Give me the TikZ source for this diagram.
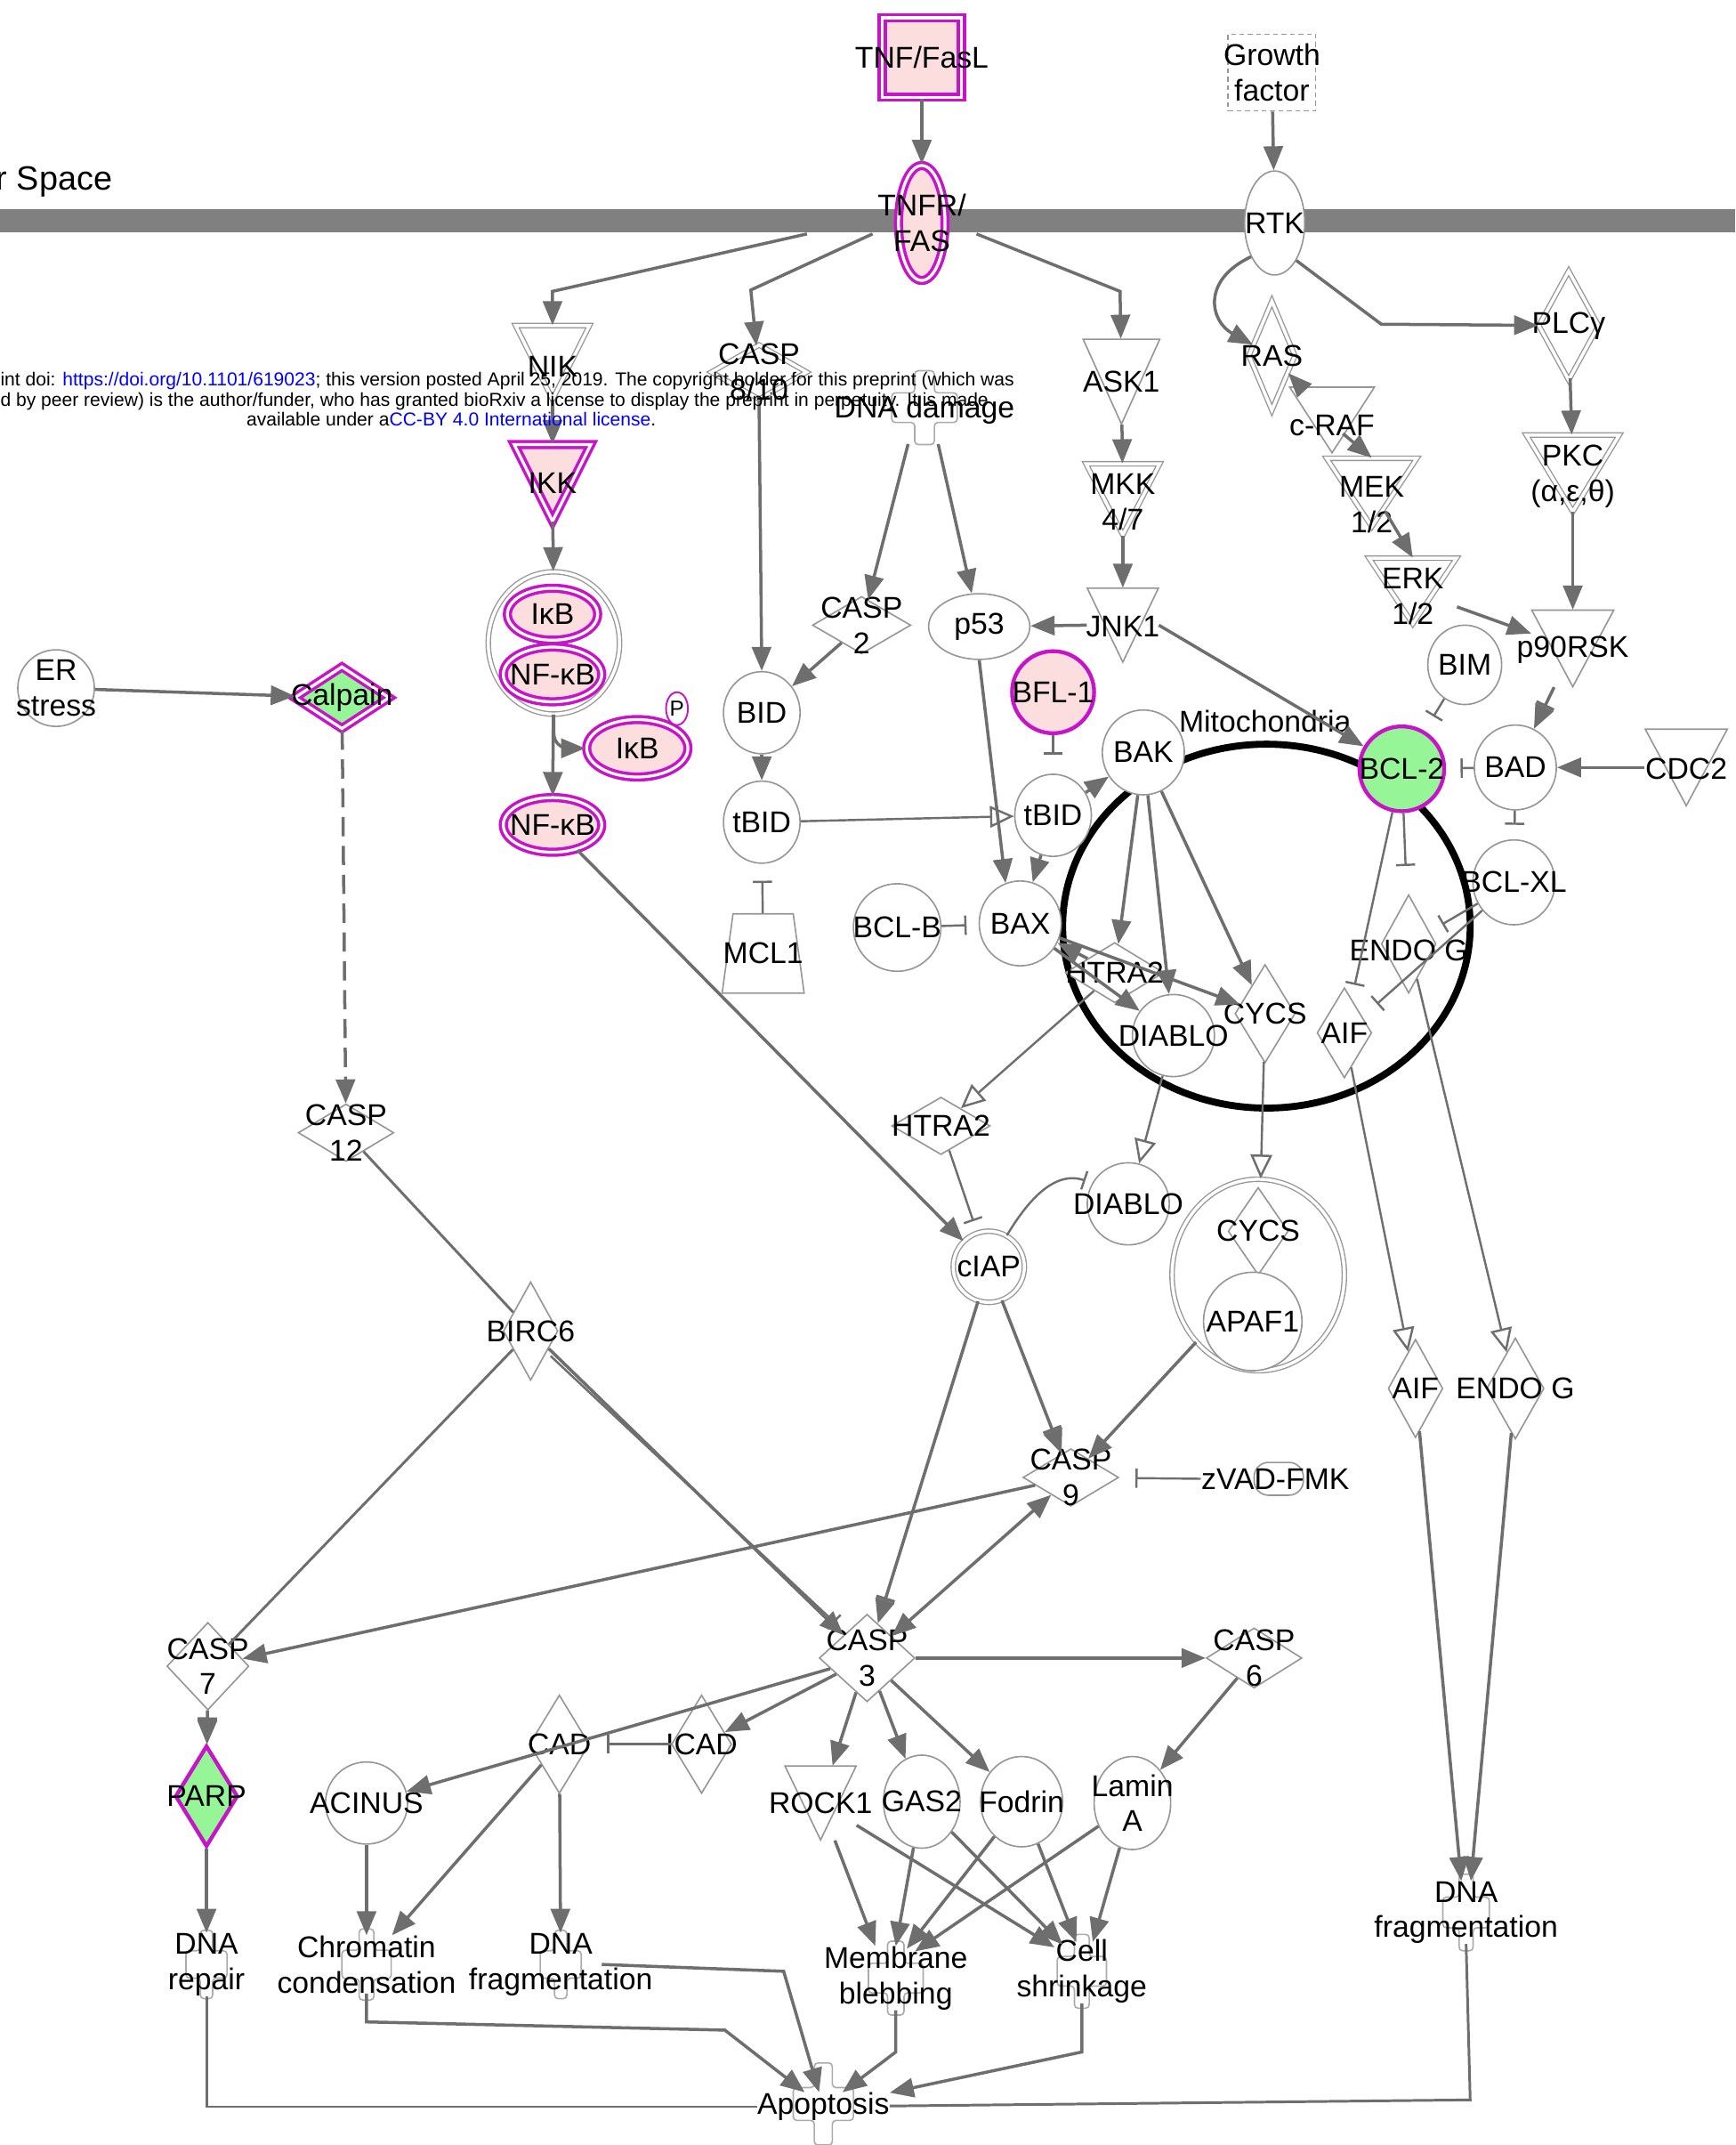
\documentclass[tikz,border=0pt]{standalone}
\usepackage{fontspec}
\setmainfont{Liberation Sans}
\usetikzlibrary{shapes.geometric,arrows.meta,calc}

\definecolor{lin}{RGB}{110,110,110}
\definecolor{outl}{RGB}{150,150,150}
\definecolor{mag}{RGB}{200,20,200}
\definecolor{pinkf}{RGB}{252,222,222}
\definecolor{greenf}{RGB}{150,245,150}
\definecolor{membr}{RGB}{128,128,128}
\definecolor{linkblue}{RGB}{0,0,255}

\tikzset{
  txt/.style={font=\fontsize{12.5}{14.7}\selectfont, align=center, inner sep=0pt},
  ts/.style 2 args={label={[txt,yshift=-#1*0.02cm]center:{#2}}},
  t/.style={ts={0}{#1}},
  shp/.style={draw=outl, line width=0.6pt, fill=white, inner sep=0pt},
  dbl/.style={double=white, double distance=1.3pt, line width=0.5pt},
  hot/.style={draw=mag, line width=1.3pt, double=white, double distance=1.2pt, fill=pinkf},
  ell/.style 2 args={shp, ellipse, minimum width=#1*0.02cm, minimum height=#2*0.02cm},
  dia/.style 2 args={shp, diamond, minimum width=#1*0.02cm, minimum height=#2*0.02cm},
  fn/.style={draw=outl!80, line width=0.6pt, fill=white, rounded corners=1.5pt},
  act/.style={draw=lin, line width=1.3pt, -{Triangle[length=10pt,width=8pt]}},
  both/.style={act, {Triangle[length=10pt,width=8pt]}-{Triangle[length=10pt,width=8pt]}},
  opn/.style={draw=lin, line width=0.9pt, -{Triangle[open,length=10pt,width=9pt]}},
  inh/.style={draw=lin, line width=0.9pt, -{Bar[width=8pt]}, shorten >=3pt},
  inhact/.style={draw=lin, line width=1.3pt, -{Bar[width=8pt] Triangle[length=10pt,width=8pt]}},
  bind/.style={draw=lin, line width=1.1pt},
}

% down triangle: [style]{name}{x}{y}{w}{h}{text}{text shift}
\newcommand\ktri[8][shp]{%
  \draw[#1] (#3-#5/2,#4-#6/2) -- (#3+#5/2,#4-#6/2) -- (#3,#4+#6/2) -- cycle;
  \node[inner sep=0pt, minimum width=#5*0.02cm, minimum height=#6*0.02cm, ts={#8}{#7}] (#2) at (#3,#4) {};}

% function shape: x, y, half width, half height
\newcommand\fcross[4]{%
  \draw[fn] (#1,#2) ++(-0.3*#3,-#4) -- ++(0.6*#3,0) -- ++(0,0.6*#4) -- ++(0.7*#3,0)
    -- ++(0,0.8*#4) -- ++(-0.7*#3,0) -- ++(0,0.6*#4) -- ++(-0.6*#3,0) -- ++(0,-0.6*#4)
    -- ++(-0.7*#3,0) -- ++(0,-0.8*#4) -- ++(0.7*#3,0) -- cycle;}

\begin{document}
\begin{tikzpicture}[x=0.02cm,y=-0.02cm]
\useasboundingbox (0,0) rectangle (1269,1568);

% membrane
\fill[membr] (0,153) rectangle (1269,170);
\node[txt, font=\fontsize{14}{16}\selectfont, anchor=west] (space) at (-3,133) {r Space};

\node[draw=black, line width=2.9pt, ellipse, minimum width=298*0.02cm, minimum height=266*0.02cm] (mito) at (926,677) {};

% top row
\node[shp, hot, rectangle, minimum width=58*0.02cm, minimum height=58*0.02cm, t={TNF/FasL}] (tnf) at (674,42) {};
\node[shp, rectangle, dash pattern=on 2pt off 1.5pt, minimum width=64*0.02cm, minimum height=56*0.02cm, t={Growth\\factor}] (gf) at (930,53) {};
\node[ell={34}{84}, hot, t={TNFR/\\FAS}] (tnfr) at (674,163) {};
\node[ell={44}{76}, t={RTK}] (rtk) at (932,163) {};

\ktri[shp,dbl]{nik}{404}{265}{54}{54}{NIK}{3}
\node[dia={70}{40}, dbl, t={CASP\\8/10}] (casp810) at (555,272) {};
\fcross{676}{298}{24}{27}
\node[txt] (dnadam) at (676,300) {DNA damage};
\ktri{ask1}{820}{279}{56}{62}{ASK1}{0}
\node[dia={34}{80}, dbl, t={RAS}] (ras) at (930,260) {};
\node[dia={44}{80}, dbl, t={PLCγ}] (plcg) at (1147,238) {};
\ktri{craf}{974}{307}{62}{48}{c-RAF}{4}
\ktri[shp,dbl]{mek}{1003}{360}{66}{50}{MEK\\1/2}{9}
\ktri[shp,dbl]{erk}{1033}{432}{64}{48}{ERK\\1/2}{4}
\ktri[shp,dbl]{pkc}{1150}{346}{68}{56}{PKC\\(α,ε,θ)}{2}
\ktri[shp,dbl]{mkk}{821}{365}{54}{52}{MKK\\4/7}{2}
\ktri{jnk}{821}{457}{52}{54}{JNK1}{1}
\ktri{p90}{1150}{474}{60}{56}{p90RSK}{1}
\node[ell={54}{58}, t={BIM}] (bim) at (1071,486) {};
\ktri[hot]{ikk}{404}{353}{56}{56}{IKK}{0}

% NF-kB branch
\node[ell={96}{104}, dbl] (ikbcx) at (405,470) {};
\node[ell={66}{38}, hot, t={IκB}] (ikb1) at (404,449) {};
\node[ell={72}{40}, hot, t={NF-κB}] (nfkb1) at (404,493) {};
\node[ell={74}{42}, hot, t={IκB}] (ikbp) at (466,547) {};
\node[ell={16}{24}, draw=mag, line width=0.7pt, label={[txt,font=\fontsize{9}{10}\selectfont]center:P}] (phos) at (495,518) {};
\node[ell={72}{40}, hot, t={NF-κB}] (nfkb) at (404,603) {};
\node[ell={56}{56}, t={ER\\stress}] (er) at (41,503) {};
\node[dia={70}{46}, hot, fill=greenf, t={Calpain}] (calpain) at (250,510) {};

% BID / BCL family
\node[dia={72}{42}, t={CASP\\2}] (casp2) at (630,457) {};
\node[ell={74}{48}, t={p53}] (p53) at (716,458) {};
\node[ell={56}{60}, t={BID}] (bid) at (557,521) {};
\node[ell={56}{60}, t={tBID}] (tbid) at (557,601) {};
\draw[shp] (536,668) -- (580,668) -- (588,726) -- (528,726) -- cycle;
\node[inner sep=0pt, minimum width=60*0.02cm, minimum height=58*0.02cm, t={MCL1}] (mcl1) at (558,697) {};
\node[ell={60}{60}, draw=mag, line width=1.6pt, fill=pinkf, t={BFL-1}] (bfl1) at (770,506) {};
\node[ell={56}{60}, t={tBID}] (tbid2) at (770,596) {};
\node[ell={64}{64}, t={BCL-B}] (bclb) at (656,678) {};
\node[ell={60}{62}, t={BAX}] (bax) at (746,675) {};
\node[ell={60}{62}, t={BAK}] (bak) at (836,550) {};
\node[ell={62}{62}, draw=mag, line width=1.6pt, fill=greenf, t={BCL-2}] (bcl2) at (1025,562) {};
\node[ell={60}{62}, t={BAD}] (bad) at (1108,561) {};
\ktri{cdc2}{1233}{561}{60}{56}{CDC2}{1}
\node[ell={60}{62}, t={BCL-XL}] (bclxl) at (1107,645) {};

% inside mitochondria
\node[dia={72}{44}, t={HTRA2}] (htra2i) at (815,711) {};
\node[ell={60}{60}, t={DIABLO}] (diabi) at (858,757) {};
\node[dia={44}{72}, t={CYCS}] (cycsi) at (925,741) {};
\node[dia={40}{66}, t={AIF}] (aifi) at (983,755) {};
\node[dia={40}{72}, ts={5}{ENDO G}] (endoi) at (1030,690) {};
\node[txt] (mitotxt) at (925,527) {Mitochondria};

% released factors
\node[dia={72}{42}, t={HTRA2}] (htra2o) at (688,823) {};
\node[ell={60}{60}, t={DIABLO}] (diabo) at (825,880) {};
\node[ell={126}{140}, dbl] (apocx) at (920,932) {};
\node[dia={44}{64}, t={CYCS}] (cycso) at (920,900) {};
\node[ell={72}{72}, t={APAF1}] (apaf) at (916,966) {};
\node[ell={52}{52}, dbl, t={cIAP}] (ciap) at (723,926) {};
\node[dia={40}{72}, t={AIF}] (aifo) at (1035,1015) {};
\node[dia={42}{74}, t={ENDO G}] (endoo) at (1108,1015) {};

% caspases
\node[dia={70}{42}, t={CASP\\12}] (casp12) at (253,828) {};
\node[dia={40}{72}, t={BIRC6}] (birc6) at (388,973) {};
\node[dia={70}{42}, t={CASP\\9}] (casp9) at (783,1080) {};
\node[shp, rounded corners=6pt, minimum width=36*0.02cm, minimum height=24*0.02cm, ts={0}{\hspace*{-0.1cm}zVAD-FMK}] (zvad) at (935,1081) {};
\node[dia={60}{64}, t={CASP\\7}] (casp7) at (152,1218) {};
\node[dia={70}{64}, t={CASP\\3}] (casp3) at (634,1212) {};
\node[dia={70}{44}, t={CASP\\6}] (casp6) at (917,1212) {};
\node[dia={46}{74}, draw=mag, line width=1.6pt, fill=greenf, t={PARP}] (parp) at (151,1313) {};
\node[dia={44}{72}, t={CAD}] (cad) at (409,1275) {};
\node[dia={44}{72}, t={ICAD}] (icad) at (513,1275) {};
\node[ell={60}{60}, t={ACINUS}] (acinus) at (268,1318) {};
\ktri{rock1}{600}{1318}{52}{54}{ROCK1}{0}
\node[ell={56}{68}, t={GAS2}] (gas2) at (674,1317) {};
\node[ell={60}{66}, t={Fodrin}] (fodrin) at (747,1317) {};
\node[ell={56}{68}, t={Lamin\\A}] (lamin) at (828,1318) {};

% functions
\fcross{151}{1436}{15}{25}
\fcross{268}{1436}{18}{26}
\fcross{410}{1436}{15}{25}
\fcross{655}{1446}{20}{27}
\fcross{791}{1441}{18}{27}
\fcross{1072}{1398}{17}{28}
\fcross{602}{1538}{22}{30}
\node[txt] (dnarep) at (151,1436) {DNA\\repair};
\node[txt] (chrom) at (268,1436) {Chromatin\\condensation};
\node[txt] (dnafr1) at (410,1436) {DNA\\fragmentation};
\node[txt] (memb) at (655,1446) {Membrane\\blebbing};
\node[txt] (cell) at (791,1441) {Cell\\shrinkage};
\node[txt] (dnafr2) at (1072,1398) {DNA\\fragmentation};
\node[txt] (apop) at (602,1540) {Apoptosis};

% connectors
\draw[act] (tnf) -- (tnfr);
\draw[act] (gf) -- (rtk);
\draw[act] (tnfr) ++(-84,8) -- (404,213) -- (nik);
\draw[act] (tnfr) ++(-36,8) -- (549,212) -- (casp810);
\draw[act] (tnfr) ++(40,8) -- (819,213) -- (ask1);
\draw[act] (rtk.235) .. controls (878,205) and (885,235) .. (ras.150);
\draw[act] (rtk.300) -- (1010,237) -- (plcg);
\draw[act] (nik) -- (ikk);
\draw[act] (ikk) -- (ikbcx);
\draw[act, rounded corners=6pt] (ikbcx.south) |- (ikbp.west);
\draw[act] (ikbcx) -- (nfkb);
\draw[act] (er) -- (calpain);
\draw[act, dash pattern=on 8pt off 4pt] (calpain) -- (casp12);
\draw[act] (casp810.south) -- (bid.north);
\draw[act] (dnadam.south) ++(-12,14) -- (casp2);
\draw[act] (dnadam.south) ++(10,14) -- (p53);
\draw[act] (casp2) -- (bid);
\draw[act] (bid) -- (tbid);
\draw[opn] (tbid) -- (tbid2);
\draw[inh, shorten >=7pt] (mcl1) -- (tbid);
\draw[act] (p53.south) -- (bax.110);
\draw[act] (tbid2) -- (bax);
\draw[act] (tbid2) -- (bak);
\draw[inh, shorten >=8pt] (bfl1) -- (tbid2);
\draw[inh, shorten >=5pt] (bclb) -- (bax);
\draw[act] (ask1) -- (mkk);
\draw[act] (mkk) -- (jnk);
\draw[act] (jnk.west) -- (p53);
\draw[act] (jnk.east) -- (bcl2);
\draw[act] (craf) -- (ras);
\draw[act] (craf.center) ++(8,10) -- (mek.north);
\draw[act] (mek.center) ++(10,14) -- (erk.north);
\draw[act] (erk) -- (p90);
\draw[act] (plcg) -- (pkc);
\draw[act] (pkc) -- (p90);
\draw[inhact] (p90) -- (bad);
\draw[inh, shorten >=7pt] (bim) -- (bcl2);
\draw[inh, shorten >=6pt] (bad) -- (bcl2);
\draw[act] (cdc2) -- (bad);
\draw[inh, shorten >=6pt] (bad) -- (bclxl);
\draw[inh, shorten >=13pt] (bcl2) -- (endoi);
\draw[inh, shorten >=6pt] (bcl2) -- (aifi);
\draw[inh, shorten >=6pt] (bclxl) -- (endoi);
\draw[inh, shorten >=8pt] (bclxl) -- (aifi);
\draw[act] (bak) -- (htra2i);
\draw[act] (bak) -- (diabi);
\draw[act] (bak) -- (cycsi);
\draw[act] (htra2i) -- (bax);
\draw[act] (bax) -- (cycsi);
\draw[act] (bax) -- (diabi);
\draw[opn] (htra2i) -- (htra2o);
\draw[opn] (diabi) -- (diabo);
\draw[opn] (cycsi) -- (apocx);
\draw[opn] (aifi) -- (aifo);
\draw[opn] (endoi) -- (endoo);
\draw[inh, shorten >=5pt] (htra2o) -- (ciap);
\draw[act] (nfkb) -- (ciap);
\draw[inh] (ciap.60) .. controls (750,880) and (770,855) .. (diabo.150);
\draw[inhact] (ciap) -- (casp9);
\draw[inhact] (ciap) -- (casp3);
\draw[act] (apocx) -- (casp9);
\draw[inh, shorten >=7pt] (zvad.center) ++(-57,0) -- (casp9);
\draw[act] (casp9) -- (casp7);
\draw[both] (casp3) -- (casp9);
\draw[bind] (casp12) -- (birc6);
\draw[bind] (birc6) -- (casp7);
\draw[act] (birc6) -- (casp3);
\draw[inh, shorten >=8pt] ([xshift=2.5pt]birc6.south east) -- ([xshift=2.5pt]casp3.north west);
\draw[inhact] (casp7) -- (parp);
\draw[act] (parp) -- (dnarep);
\draw[act] (casp3) -- (casp6);
\draw[act] (casp6) -- (lamin);
\draw[act] (casp3) -- (icad);
\draw[act] (casp3) -- (acinus);
\draw[inh, shorten >=7pt] (icad) -- (cad);
\draw[act] (cad) -- (chrom);
\draw[act] (cad) -- (dnafr1);
\draw[act] (acinus) -- (chrom);
\draw[act] (casp3) -- (rock1);
\draw[act] (casp3) -- (gas2);
\draw[act] (casp3) -- (fodrin);
\draw[act] (rock1) -- ($(memb.north)+(-15,0)$);
\draw[act] (rock1) -- ($(cell.north)+(-20,6)$);
\draw[act] (gas2) -- ($(memb.north)+(0,0)$);
\draw[act] (gas2) -- ($(cell.north)+(-14,4)$);
\draw[act] (fodrin) -- ($(memb.north)+(8,2)$);
\draw[act] (fodrin) -- ($(cell.north)+(-4,2)$);
\draw[act] (lamin) -- ($(memb.north)+(14,4)$);
\draw[act] (lamin) -- ($(cell.north)+(8,2)$);
\draw[act] (aifo) -- ([xshift=-2pt]dnafr2.north);
\draw[act] (endoo) -- ([xshift=2pt]dnafr2.north);
\draw[bind] (dnarep.south) -- (151,1540) -- (apop);
\draw[act] (chrom.south) -- (268,1478) -- (530,1484) -- (apop);
\draw[act] (dnafr1.center) ++(30,0) -- (573,1441) -- (apop);
\draw[act] (memb.south) -- (655,1500) -- (apop);
\draw[act] (cell.south) -- (791,1500) -- (apop);
\draw[bind] (dnafr2.south) -- (1075,1535) -- (apop);

% preprint note
\node[anchor=north west, align=left, inner sep=0pt, font=\fontsize{7.8}{8.3}\selectfont] (note) at (0,272) {int doi: \textcolor{linkblue}{https://doi.org/10.1101/619023}; this version posted April 25, 2019. The copyright holder for this preprint (which was\\d by peer review) is the author/funder, who has granted bioRxiv a license to display the preprint in perpetuity. It is made\\\hspace*{3.6cm}available under a\textcolor{linkblue}{CC-BY 4.0 International license}.};
\end{tikzpicture}
\end{document}
